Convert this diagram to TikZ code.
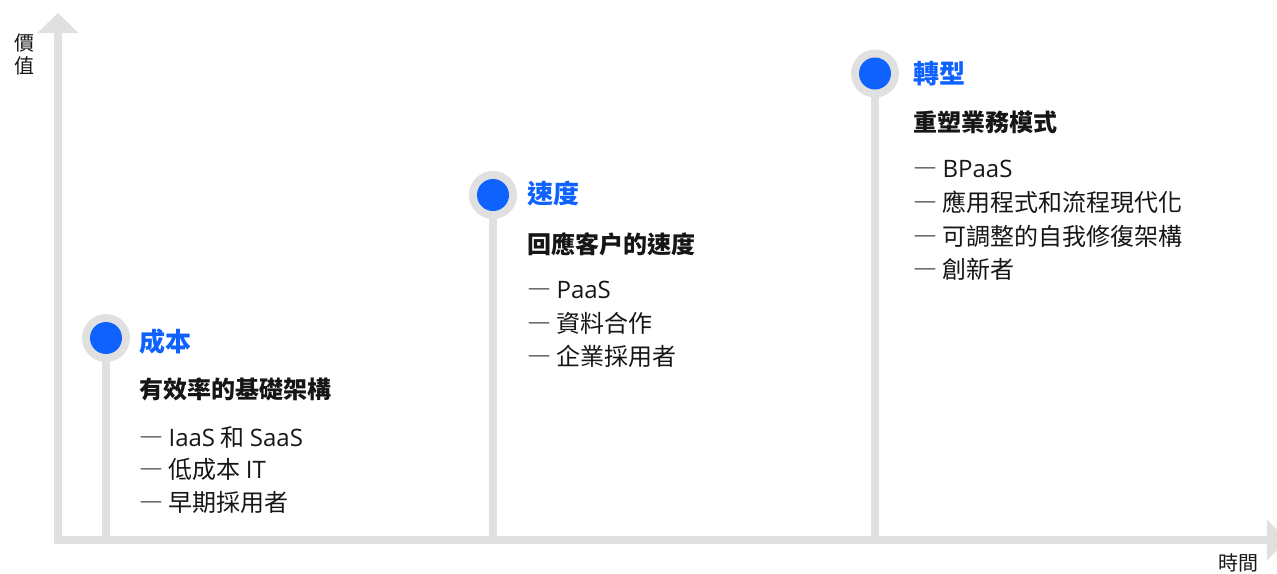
\documentclass[tikz,border=0pt]{standalone}
\usepackage{fontspec}
\setmainfont{Noto Sans CJK TC}
\newfontfamily\latin{Open Sans}
\newcommand\mydash{{\addfontfeature{RawFeature=+fwid}—}}
\newcommand\lt[1]{{\latin #1}}
\usetikzlibrary{arrows.meta}
\definecolor{axisgrey}{HTML}{E0E0E0}
\definecolor{ibmblue}{HTML}{0F62FE}
\definecolor{ink}{HTML}{161616}
\begin{document}
\begin{tikzpicture}[x=1pt,y=-1pt,
  axis/.style={draw=axisgrey, line width=8pt, line join=miter},
  stem/.style={draw=axisgrey, line width=8pt},
  ring/.style={circle, fill=axisgrey, minimum size=48pt, inner sep=0pt},
  dot/.style={circle, fill=ibmblue, minimum size=32pt, inner sep=0pt},
  ttl/.style={anchor=base west, inner sep=0pt, text=ibmblue, font=\fontsize{26}{26}\selectfont\bfseries},
  sub/.style={anchor=base west, inner sep=0pt, text=ink, font=\fontsize{24}{24}\selectfont\bfseries},
  item/.style={anchor=base west, inner sep=0pt, text=ink, font=\fontsize{24}{24}\selectfont},
  axlbl/.style={anchor=base west, inner sep=0pt, text=ink, font=\fontsize{20}{20}\selectfont}]
\useasboundingbox (0,0) rectangle (1277,573);
\clip (0,0) rectangle (1277,573);
% axes
\coordinate (ytip) at (58,13);
\coordinate (origin) at (58,540);
\coordinate (xtip) at (1287,540);
\draw[axis, {Triangle[length=20pt,width=40pt]}-{Triangle[length=20pt,width=40pt]}] (ytip) -- (origin) -- (xtip);
\node[axlbl] (yl1) at (14,50.5) {價};
\node[axlbl] (yl2) at (14,73.5) {值};
\node[axlbl] (xl) at (1218,570) {時間};
% milestone markers
\coordinate (p1) at (106,338);
\coordinate (p2) at (493,195);
\coordinate (p3) at (875,73.5);
\draw[stem] (p1) -- (p1 |- origin);
\draw[stem] (p2) -- (p2 |- origin);
\draw[stem] (p3) -- (p3 |- origin);
\node[ring] (r1) at (p1) {};
\node[dot] (d1) at (p1) {};
\node[ring] (r2) at (p2) {};
\node[dot] (d2) at (p2) {};
\node[ring] (r3) at (p3) {};
\node[dot] (d3) at (p3) {};
% column 1
\node[ttl] (t1) at (139,351) {成本};
\node[sub] (s1) at (139,398) {有效率的基礎架構};
\node[item] (i11) at (139,446) {\mydash{} \lt{IaaS} 和 \lt{SaaS}};
\node[item] (i12) at (139,478) {\mydash{} 低成本 \lt{IT}};
\node[item] (i13) at (139,511) {\mydash{} 早期採用者};
% column 2
\node[ttl] (t2) at (527,203) {速度};
\node[sub] (s2) at (527,253) {回應客户的速度};
\node[item] (i21) at (527,298) {\mydash{} \lt{PaaS}};
\node[item] (i22) at (527,332) {\mydash{} 資料合作};
\node[item] (i23) at (527,365) {\mydash{} 企業採用者};
% column 3
\node[ttl] (t3) at (913,83) {轉型};
\node[sub] (s3) at (913,131) {重塑業務模式};
\node[item] (i31) at (913,177) {\mydash{} \lt{BPaaS}};
\node[item] (i32) at (913,211) {\mydash{} 應用程式和流程現代化};
\node[item] (i33) at (913,245) {\mydash{} 可調整的自我修復架構};
\node[item] (i34) at (913,278) {\mydash{} 創新者};
\end{tikzpicture}
\end{document}
